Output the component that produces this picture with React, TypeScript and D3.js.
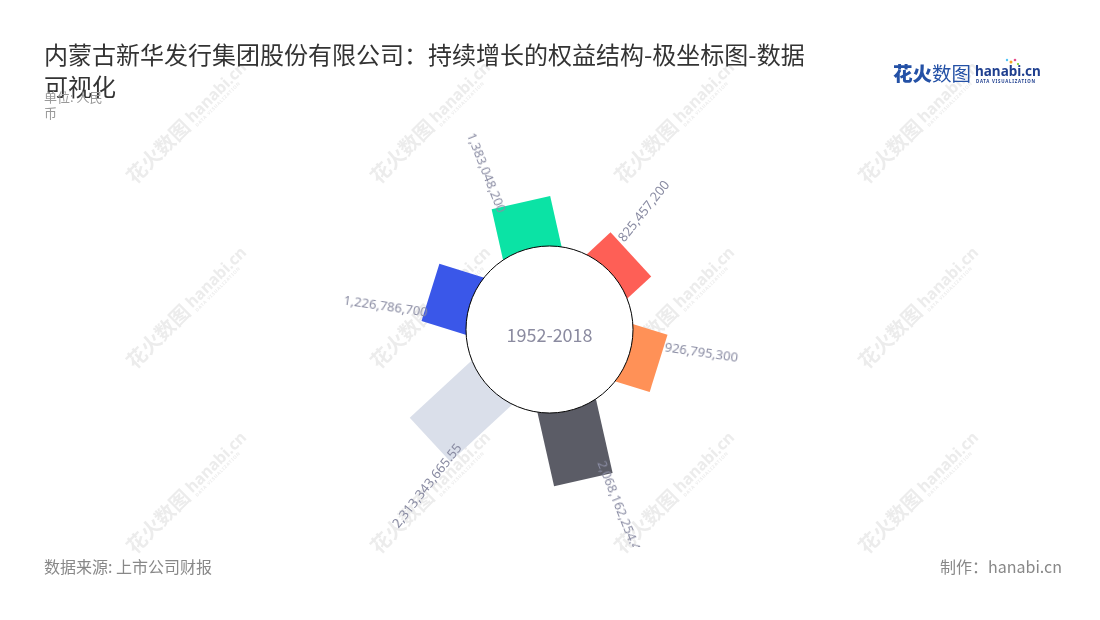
import React from "react";
import * as d3 from "d3";

// ---- data ----
const categories = ["股本", "资本公积", "盈余公积", "未分配利润", "归属母公司股东权益", "其他权益"];
const values = [1383048200, 825457200, 926795300, 2068162254.47, 2313343665.55, 1226786700];
const colors = ["#0be3a5", "#fe5f56", "#ff9157", "#5b5c66", "#dadfea", "#3a57e9"];
const centerLabel = "1952-2018";
const title1 = "内蒙古新华发行集团股份有限公司：持续增长的权益结构-极坐标图-数据";
const title2 = "可视化";
const unitLines = ["单位: 人民", "币"];
const sourceText = "数据来源: 上市公司财报";
const makerText = "制作：hanabi.cn";

const W = 1100;
const H = 620;
const FONT = "'Noto Sans CJK SC', 'Noto Sans', sans-serif";

const cx = 549.5;
const cy = 329.5;
const holeR = 83.5;
const barBase = 76;
const barWidth = 60;
const startAngle = -42.7;
const labelShift = 9;

const angle = d3.scaleBand<string>().domain(categories).range([startAngle, startAngle + 360]);
const radius = d3.scaleLinear().domain([0, 2.5e9]).range([82, 169]);
const labelRadius = d3.scaleLinear().domain([0, 2.5e9]).range([96.4, 151]);
const fmt = (v: number) => v.toLocaleString("en-US", { maximumFractionDigits: 2 });

const wmCols = [135, 379, 623, 867];
const wmRows = [185, 370, 555];

export default function App() {
  return (
    <svg width={W} height={H} style={{ position: "absolute", left: 0, top: 0, background: "#fff" }} fontFamily={FONT}>
      <defs>
        <clipPath id="plotClip">
          <rect x={0} y={0} width={W} height={547} />
        </clipPath>
      </defs>
      <rect width={W} height={H} fill="#fff" />

      {/* watermarks */}
      <g opacity={0.4} fill="#d0d0d0" pointerEvents="none">
        {wmRows.map((y) =>
          wmCols.map((x) => (
            <g key={`${x}-${y}`} transform={`translate(${x},${y}) rotate(-45)`}>
              <text x={0} y={0} fontSize={20} fontWeight={700}>花火数图</text>
              <text x={84} y={-3} fontSize={16} fontWeight={700} fontFamily="'Noto Sans', sans-serif">hanabi.cn</text>
              <text x={85} y={3} fontSize={4.5} fontWeight={700} letterSpacing={0.8} fontFamily="'Noto Sans', sans-serif">DATA VISUALIZATION</text>
            </g>
          ))
        )}
      </g>

      {/* title */}
      <text x={44} y={64} fontSize={24} fill="#333">{title1}</text>
      <text x={44} y={96} fontSize={24} fill="#333">{title2}</text>
      {unitLines.map((t, i) => (
        <text key={i} x={44} y={102 + i * 16} fontSize={13} fill="#999">{t}</text>
      ))}

      {/* logo */}
      <g>
        <text x={893} y={81} fontSize={19.5} fill="#2451a6">
          <tspan fontWeight={900}>花火</tspan>
          <tspan fontWeight={400}>数图</tspan>
        </text>
        <text x={975} y={76} fontSize={13.5} fontWeight={700} fill="#1f3f8f" fontFamily="'Noto Sans', sans-serif">hanabi.cn</text>
        <text x={976} y={82.5} fontSize={4.4} fontWeight={700} fill="#1f3f8f" letterSpacing={0.75} fontFamily="'Noto Sans', sans-serif">DATA VISUALIZATION</text>
        <circle cx={1011} cy={62} r={1.5} fill="#f5a623" />
        <circle cx={1015} cy={60} r={1.3} fill="#e94b8a" />
        <circle cx={1007} cy={60} r={1.2} fill="#4fc3f7" />
        <circle cx={1018} cy={64} r={1.1} fill="#7ed321" />
      </g>

      {/* bars */}
      <g transform={`translate(${cx},${cy})`}>
        {categories.map((c, i) => {
          const a = (angle(c) as number) + angle.bandwidth() / 2;
          const outer = radius(values[i]);
          return (
            <rect
              key={c}
              transform={`rotate(${a - 90})`}
              x={barBase}
              y={-barWidth / 2}
              width={outer - barBase}
              height={barWidth}
              fill={colors[i]}
            />
          );
        })}
        <circle r={holeR} fill="#fff" stroke="#000" strokeWidth={1} />
        <text x={0} y={4} textAnchor="middle" dominantBaseline="central" fontSize={18} fill="#8b8ba0">{centerLabel}</text>
      </g>

      {/* labels */}
      <g clipPath="url(#plotClip)">
        <g transform={`translate(${cx},${cy})`}>
          {categories.map((c, i) => {
            const a = (angle(c) as number) + angle.bandwidth() / 2;
            const la = a - labelShift;
            const norm = ((a % 360) + 360) % 360;
            const right = norm > 0 && norm < 180;
            const r = labelRadius(values[i]);
            return (
              <g key={c} transform={`rotate(${la - 90}) translate(${r},0)${right ? "" : " rotate(180)"}`}>
                <text
                  textAnchor={right ? "start" : "end"}
                  dominantBaseline="central"
                  fontSize={13}
                  fill="#8a8ca3"
                  fontFamily="'Noto Sans', sans-serif"
                >
                  {fmt(values[i])}
                </text>
              </g>
            );
          })}
        </g>
      </g>

      {/* footer */}
      <text x={44} y={573} fontSize={16} fill="#888">{sourceText}</text>
      <text x={1062} y={573} fontSize={16} fill="#888" textAnchor="end">{makerText}</text>
    </svg>
  );
}
